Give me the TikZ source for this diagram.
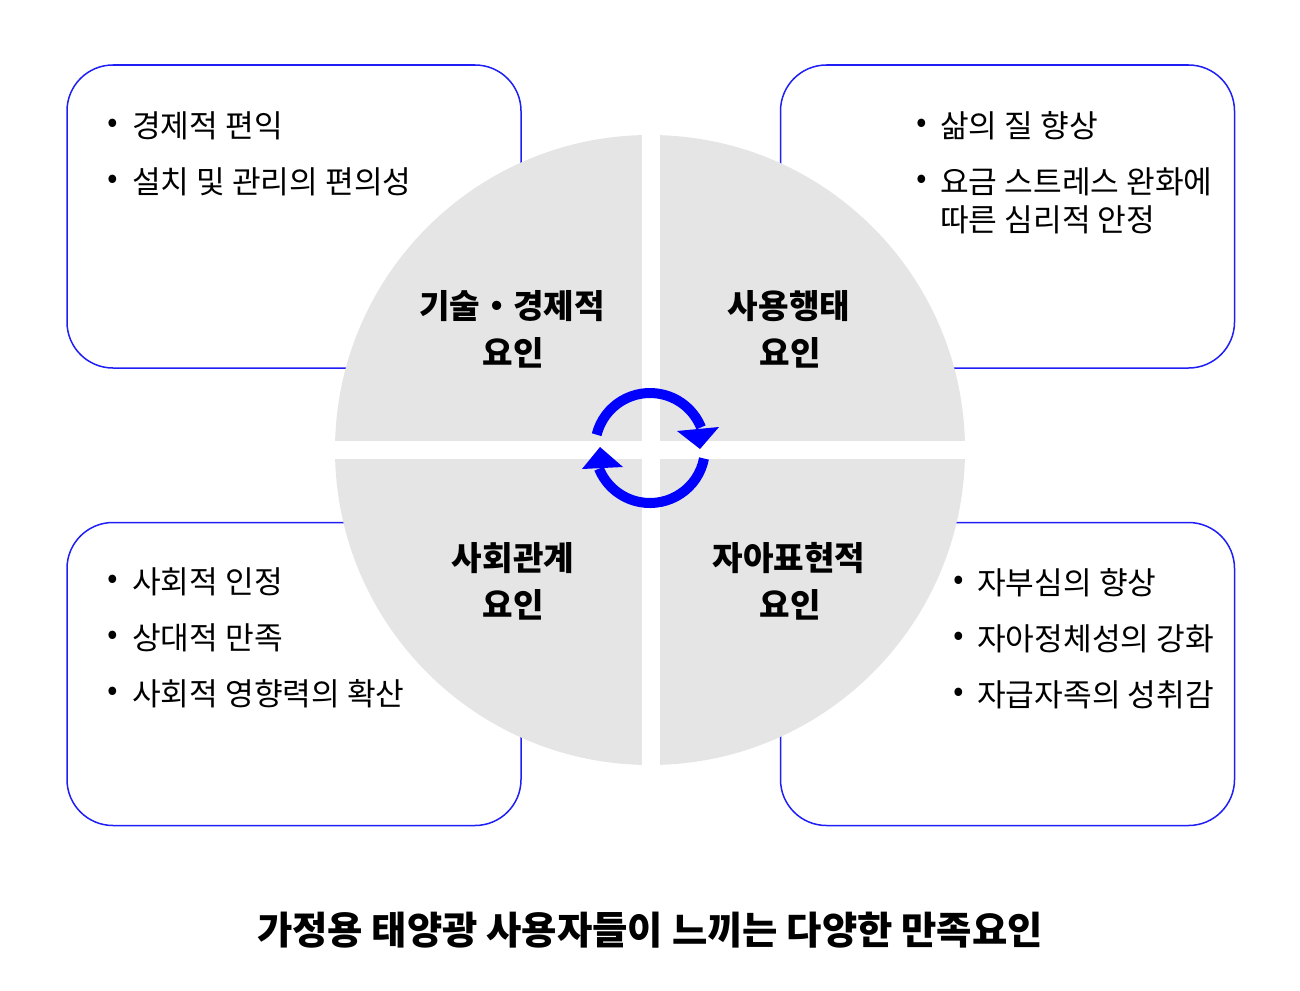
\documentclass[tikz,border=0pt]{standalone}
\usepackage{fontspec}
\setmainfont{Noto Sans CJK KR}
\definecolor{qgray}{RGB}{229,229,229}
\definecolor{bblue}{RGB}{30,30,245}
\definecolor{arblue}{RGB}{0,0,255}
\tikzset{
  box/.style={draw=bblue, line width=1.5pt, rounded corners=46pt, minimum width=454pt, minimum height=303pt, inner sep=0},
  item/.style={anchor=west, inner sep=0, font=\fontsize{31.2}{36}\selectfont},
  bul/.style={inner sep=0, font=\fontsize{31.2}{36}\selectfont},
  lab/.style={inner sep=0, font=\fontsize{33.2}{38}\selectfont\bfseries},
  ttl/.style={inner sep=0, font=\fontsize{38.4}{44}\selectfont\bfseries},
  cyc/.style={draw=arblue, line width=10pt},
}
\begin{document}
\begin{tikzpicture}[x=1pt,y=1pt]
\useasboundingbox (0,0) rectangle (1300,-990);
% boxes
\node[box] (tl) at (294,-216.5) {};
\node[box] (tr) at (1007.5,-216.5) {};
\node[box] (bl) at (294,-674) {};
\node[box] (br) at (1007.5,-674) {};
% wheel
\node[circle, fill=qgray, minimum size=630pt, inner sep=0] (wheel) at (650,-450) {};
\fill[white] (641.5,-125) rectangle (659.5,-775);
\fill[white] (325,-441) rectangle (975,-459);
% cycle arrows
\draw[cyc] (650,-448) ++(166:55) arc[start angle=166, end angle=22, radius=55];
\fill[arblue] (677,-431) -- (719,-427) -- (700,-449) -- cycle;
\draw[cyc] (650,-448) ++(-11:55) arc[start angle=-11, end angle=-158, radius=55];
\fill[arblue] (582,-469) -- (623,-467) -- (600,-447) -- cycle;
% quadrant labels
\node[lab] (q1a) at (512,-306) {기술・경제적};
\node[lab] (q1b) at (513,-353) {요인};
\node[lab] (q2a) at (789,-306) {사용행태};
\node[lab] (q2b) at (790,-353) {요인};
\node[lab] (q3a) at (513,-558) {사회관계};
\node[lab] (q3b) at (513,-605) {요인};
\node[lab] (q4a) at (789,-558) {자아표현적};
\node[lab] (q4b) at (790,-605) {요인};
% TL items
\node[bul] (b11) at (113,-126) {•};
\node[item] (t11) at (132,-126) {경제적 편익};
\node[bul] (b12) at (113,-182) {•};
\node[item] (t12) at (132,-182) {설치 및 관리의 편의성};
% TR items
\node[bul] (b21) at (922,-126) {•};
\node[item] (t21) at (940,-126) {삶의 질 향상};
\node[bul] (b22) at (922,-182) {•};
\node[item] (t22) at (940,-182) {요금 스트레스 완화에};
\node[item] (t23) at (940,-220) {따른 심리적 안정};
% BL items
\node[bul] (b31) at (113,-582) {•};
\node[item] (t31) at (132,-582) {사회적 인정};
\node[bul] (b32) at (113,-638) {•};
\node[item] (t32) at (132,-638) {상대적 만족};
\node[bul] (b33) at (113,-694) {•};
\node[item] (t33) at (132,-694) {사회적 영향력의 확산};
% BR items
\node[bul] (b41) at (959,-583) {•};
\node[item] (t41) at (977,-583) {자부심의 향상};
\node[bul] (b42) at (959,-639) {•};
\node[item] (t42) at (977,-639) {자아정체성의 강화};
\node[bul] (b43) at (959,-695) {•};
\node[item] (t43) at (977,-695) {자급자족의 성취감};
% title
\node[ttl] (title) at (650,-930) {가정용 태양광 사용자들이 느끼는 다양한 만족요인};
\end{tikzpicture}
\end{document}
